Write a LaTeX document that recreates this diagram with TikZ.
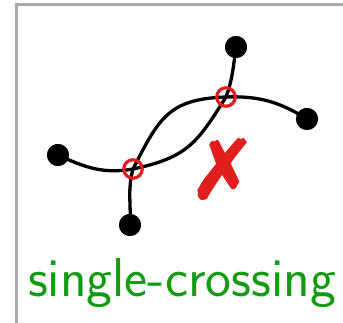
\documentclass[tikz,border=0pt]{standalone}
\usepackage{pifont}
\definecolor{framegray}{RGB}{170,170,170}
\definecolor{crossred}{RGB}{225,30,30}
\definecolor{labelgreen}{RGB}{20,155,20}
\newcommand{\heavymark}[1]{\special{pdf:literal 2 Tr 2.2 w}#1\special{pdf:literal 0 Tr 1 w}}
\begin{document}
\begin{tikzpicture}[x=1pt,y=1pt,
  vtx/.style={circle,fill=black,inner sep=0pt,minimum size=22pt},
  xing/.style={circle,draw=crossred,line width=3.2pt,inner sep=0pt,minimum size=18.5pt},
  edge/.style={line width=3.3pt,black}]
\useasboundingbox (0,0) rectangle (343,323);
\draw[framegray,line width=3pt] (16.5,-2) -- (16.5,318.2) -- (345,318.2);
\node[vtx] (A) at (236,276) {};
\node[vtx] (B) at (307,204) {};
\node[vtx] (C) at (58,168) {};
\node[vtx] (D) at (130,98) {};
\coordinate (P1) at (226,226);
\coordinate (P2) at (133,154);
\draw[edge] (C.center) to[out=-25,in=190] (P2) to[out=12,in=238,looseness=1.2] (P1) to[out=70,in=262] (A.center);
\draw[edge] (D.center) to[out=87,in=255] (P2) to[out=63,in=182,looseness=1.25] (P1) to[out=2,in=148] (B.center);
\node[vtx] at (A) {};
\node[vtx] at (B) {};
\node[vtx] at (C) {};
\node[vtx] at (D) {};
\node[xing] (X1) at (P1) {};
\node[xing] (X2) at (P2) {};
\node[text=crossred,font=\fontsize{82}{82}\selectfont,inner sep=0pt] (mark) at (222,154) {\heavymark{\ding{55}}};
\node[text=labelgreen,font=\sffamily\fontsize{55}{60}\selectfont,anchor=base,inner sep=0pt] (lbl) at (182,26) {single-crossing};
\end{tikzpicture}
\end{document}
